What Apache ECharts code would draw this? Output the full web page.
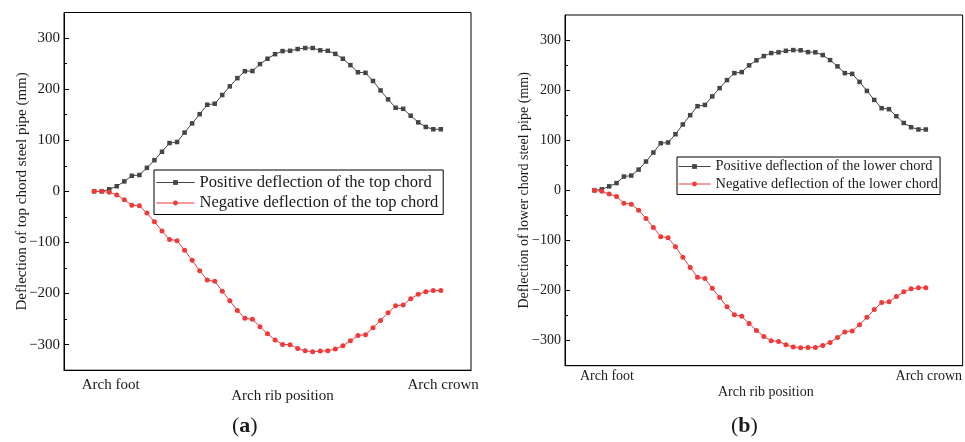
<!DOCTYPE html>
<html>
<head>
<meta charset="utf-8">
<script src="https://cdn.jsdelivr.net/npm/echarts@6/dist/echarts.min.js"></script>
<style>
  html, body { margin: 0; padding: 0; background: #fff; }
  #chart { width: 965px; height: 442px; }
</style>
</head>
<body>
<div id="chart"></div>
<script>
// Deflection along the arch rib, measured at successive stations from foot to crown (mm)
const topPositive = [0, 0, 4, 10, 19.5, 30.5, 32, 46, 61, 77.5, 94.5, 96.5, 115, 133, 151, 169.5, 171.5, 188.5, 205.5, 221.5, 235, 235.5, 249, 259.5, 268.5, 274.5, 275, 278.5, 280.5, 280.5, 276, 275, 269, 259.5, 247, 233, 232, 216, 197.5, 180, 163.5, 161.5, 148, 135, 126, 121.5, 121.5];
const topNegative = [0, 0, -2, -7, -16.5, -27, -28, -42.5, -59.5, -77.5, -94, -96.5, -115.5, -135, -155.5, -173.5, -176, -195.5, -214, -233, -248.5, -250.5, -265, -278.5, -291, -299.5, -300, -307.5, -312, -314, -312.5, -312, -308.5, -302, -292.5, -282, -280.5, -267, -252.5, -237.5, -224, -222.5, -210, -201.5, -196.5, -194, -194];
const lowerPositive = [0, 2, 8, 14.5, 27.5, 29.5, 41.5, 57.5, 75.5, 94, 95.5, 112, 131.5, 150, 168, 170.5, 187.5, 204, 220, 234, 236, 249.5, 259.5, 268, 274, 275.5, 278.5, 280, 279.5, 276, 275.5, 270, 260, 247.5, 234, 232.5, 216.5, 198.5, 180.5, 164, 162, 148, 134.5, 126, 121.5, 121.5];
const lowerNegative = [0, -2, -7.5, -12.5, -25.5, -27.5, -39.5, -56, -74, -92.5, -94.5, -112.5, -133.5, -154, -173.5, -176, -195.5, -214, -232.5, -248.5, -251.5, -266, -279.5, -291.5, -300, -301.5, -308, -312.5, -314, -313.5, -313.5, -309.5, -303.5, -293.5, -282.5, -280.5, -268.5, -253.5, -238, -224, -222.5, -212, -202.5, -196.5, -194.5, -194.5];

const positionLabels = ['Arch foot', 'Arch crown'];
const yTickValues = [-300, -200, -100, 0, 100, 200, 300];
const yMinorTickValues = [-250, -150, -50, 50, 150, 250];

const seriesNamesTop = ['Positive deflection of the top chord', 'Negative deflection of the top chord'];
const seriesNamesLower = ['Positive deflection of the lower chord', 'Negative deflection of the lower chord'];
const yNames = ['Deflection of top chord steel pipe (mm)', 'Deflection of lower chord steel pipe (mm)'];
const xName = 'Arch rib position';
const panelTags = ['a', 'b'];

const FONT = "'Liberation Serif', 'Times New Roman', serif";
const TEXT = '#1a1a1a';
const GRAY = '#454545';
const RED = '#f03a3a';

const chart = echarts.init(document.getElementById('chart'), null, { renderer: 'canvas' });

// per-panel layout
const panels = [
  { grid: { left: 64, top: 12.5, width: 407, height: 357.7 }, labelAt: [2.2, 46.3], font: 15, legendFont: 16.5,
    labelMargin: 7, xNameGap: 18,
    legend: { left: 154, top: 170, itemWidth: 38, padding: [4, 5, 3, 2], itemGap: 3.5 }, nameShift: 30, tag: [246, 427] },
  { grid: { left: 565, top: 15, width: 398, height: 350.7 }, labelAt: [1.7, 45.4], font: 14, legendFont: 14.4,
    labelMargin: 4, xNameGap: 20,
    legend: { left: 677, top: 157, itemWidth: 32, padding: [2.5, 2, 3.5, 1], itemGap: 3.5 }, nameShift: 4, tag: [745, 427] }
];

const toPoints = arr => arr.map((v, i) => [i, v]);
const minusSign = v => String(v).replace('-', '\u2212');

const grids = [], xAxes = [], yAxes = [], legends = [], series = [], graphics = [];

panels.forEach((p, g) => {
  grids.push(Object.assign({ show: true, borderColor: '#000', borderWidth: 1, backgroundColor: 'transparent' }, p.grid));

  xAxes.push({
    gridIndex: g, type: 'value', min: -4, max: 50,
    axisLine: { show: true, onZero: false, lineStyle: { color: '#000', width: 1 } },
    axisTick: { show: false },
    splitLine: { show: false },
    axisLabel: {
      customValues: p.labelAt, margin: p.labelMargin,
      fontFamily: FONT, fontSize: p.font, color: TEXT,
      formatter: v => positionLabels[p.labelAt.indexOf(v)]
    },
    name: xName, nameLocation: 'middle', nameGap: p.xNameGap, nameMoveOverlap: false,
    nameTextStyle: { fontFamily: FONT, fontSize: p.font, color: TEXT, verticalAlign: 'top', padding: [0, 0, 0, p.nameShift] }
  });

  yAxes.push({
    gridIndex: g, type: 'value', min: -350, max: 350, position: 'left',
    axisLine: { show: true, onZero: false, lineStyle: { color: '#000', width: 1 } },
    axisTick: { show: true, inside: true, length: 5, customValues: yTickValues, lineStyle: { color: '#000' } },
    axisLabel: { customValues: yTickValues, margin: 4, fontFamily: FONT, fontSize: p.font, color: TEXT, formatter: minusSign },
    splitLine: { show: false },
    name: yNames[g], nameLocation: 'middle', nameGap: 34, nameMoveOverlap: false,
    nameTextStyle: { fontFamily: FONT, fontSize: p.font, color: TEXT }
  });
  // minor ticks between labelled values
  yAxes.push({
    gridIndex: g, type: 'value', min: -350, max: 350, position: 'left',
    axisLine: { show: false, onZero: false },
    axisTick: { show: true, inside: true, length: 3, customValues: yMinorTickValues, lineStyle: { color: '#000' } },
    axisLabel: { show: false },
    splitLine: { show: false }
  });

  const names = g === 0 ? seriesNamesTop : seriesNamesLower;
  const pos = g === 0 ? topPositive : lowerPositive;
  const neg = g === 0 ? topNegative : lowerNegative;

  series.push({
    name: names[0], type: 'line', xAxisIndex: g, yAxisIndex: g * 2,
    data: toPoints(pos), symbol: 'rect', symbolSize: 4.5, showSymbol: true,
    lineStyle: { color: GRAY, width: 1 }, itemStyle: { color: GRAY }, animation: false
  });
  series.push({
    name: names[1], type: 'line', xAxisIndex: g, yAxisIndex: g * 2,
    data: toPoints(neg), symbol: 'circle', symbolSize: 5, showSymbol: true,
    lineStyle: { color: RED, width: 1 }, itemStyle: { color: RED }, animation: false
  });

  legends.push(Object.assign({
    orient: 'vertical', data: names, itemHeight: 6,
    borderColor: '#000', borderWidth: 1, borderRadius: 0, backgroundColor: '#fff',
    selectedMode: false,
    lineStyle: { width: 1 },
    textStyle: { fontFamily: FONT, fontSize: p.legendFont, color: TEXT }
  }, p.legend));

  graphics.push({
    type: 'text', left: p.tag[0] - 14, top: p.tag[1] - 12,
    style: {
      text: '{n|(}{b|' + panelTags[g] + '}{n|)}',
      rich: {
        n: { fontFamily: FONT, fontSize: 22, fill: TEXT },
        b: { fontFamily: FONT, fontSize: 22, fontWeight: 'bold', fill: TEXT }
      }
    }
  });
});

chart.setOption({
  backgroundColor: '#fff',
  animation: false,
  grid: grids,
  xAxis: xAxes,
  yAxis: yAxes,
  legend: legends,
  series: series,
  graphic: graphics
});
</script>
</body>
</html>
